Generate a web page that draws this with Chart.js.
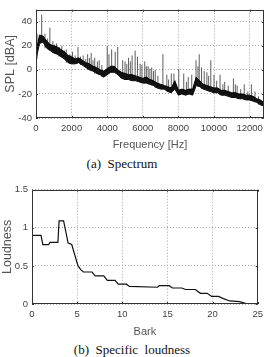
<!DOCTYPE html>
<html>
<head>
<meta charset="utf-8">
<script src="https://cdn.jsdelivr.net/npm/chart.js@4.4.0/dist/chart.umd.min.js"></script>
<style>
body { margin: 0; background: #fff; width: 268px; height: 357px; position: relative; overflow: hidden; }
canvas { position: absolute; left: 0; }
.cap { position: absolute; width: 268px; text-align: center; line-height: 16px;
       font-family: "Liberation Serif", "Times New Roman", serif; font-size: 13px; color: #111; white-space: pre; }
</style>
</head>
<body>
<canvas id="spec" width="268" height="152" style="top:0px"></canvas>
<div class="cap" style="top:156px;left:-12px">(a)  Spectrum</div>
<canvas id="loud" width="268" height="159" style="top:180px"></canvas>
<div class="cap" style="top:342px;left:-2px">(b)  Specific  loudness</div>
<script>
// (a) spectrum: band of the noisy trace every 200 Hz
var freqHz = [0, 200, 400, 600, 800, 1000, 1200, 1400, 1600, 1800,
    2000, 2200, 2400, 2600, 2800, 3000, 3200, 3400, 3600, 3800,
    4000, 4200, 4400, 4600, 4800, 5000, 5200, 5400, 5600, 5800,
    6000, 6200, 6400, 6600, 6800, 7000, 7200, 7400, 7600, 7800,
    8000, 8200, 8400, 8600, 8800, 9000, 9200, 9400, 9600, 9800,
    10000, 10200, 10400, 10600, 10800, 11000, 11200, 11400, 11600, 11800,
    12000, 12200, 12400, 12600, 12800];
var splLow = [9, 22, 23, 18, 16, 14, 13, 11, 9, 6,
    5, 5, 6, 4, 2, 0, -1, -3, -4, -6,
    -4, -2, -2, -4, -7, -8, -8, -9, -9, -10,
    -11, -11, -12, -13, -15, -16, -16, -18, -19, -16,
    -21, -20, -21, -20, -21, -13, -14, -16, -17, -18,
    -19, -19, -21, -21, -22, -23, -23, -24, -24, -25,
    -25, -26, -27, -29, -30];
var splHigh = [15, 29, 28, 24, 21, 20, 19, 17, 15, 12,
    11, 9, 10, 8, 6, 5, 3, 2, 0, -1,
    1, 3, 3, 0, -2, -3, -4, -4, -5, -6,
    -7, -6, -8, -9, -11, -12, -13, -14, -15, -9,
    -17, -16, -17, -16, -16, -6, -9, -12, -13, -14,
    -15, -15, -17, -17, -18, -19, -19, -20, -20, -21,
    -21, -22, -24, -25, -27];
// tonal peaks (gray spikes)
var spikeHz = [60, 320, 500, 650, 780, 950, 1050, 1150, 1300, 1450, 1600, 1700, 1900, 2050, 2200, 2360,
    2500, 2650, 2800, 2900, 3000, 3100, 3200, 3300, 3450, 3550, 3700,
    4000, 4100, 4250, 4450, 4590, 4870, 5000, 5100, 5200, 5300, 5400, 5570, 5700, 5850, 5950,
    6110, 6200, 6300, 6400, 6500, 6600, 6700, 6850,
    7130, 7350, 7450, 7600, 7750, 8020, 8300, 8450, 8550, 8750, 8990, 9100, 9170, 9300, 9450,
    9600, 9700, 9820, 10000, 10150, 10340, 10500, 10600, 10800, 11090, 11200, 11300, 11500,
    11700, 11900, 12100, 12300, 12500];
var spikeTop = [30, 46, 30, 26, 35, 24, 21, 22, 19, 20, 16, 17, 13, 15, 12, 19,
    11, 12, 9, 13, 10, 14, 8, 10, 7, 8, 4,
    20, 13, 17, 15, 19, 8, 7, 5, 10, 7, 12, 16, 11, 5, 4,
    7, 3, 3, 1, 2, -1, 0, -5,
    13, -4, -8, -3, -3, 1, -3, -10, -6, -4, 8, 3, 13, 2, -1,
    -2, -5, 8, -4, -9, -4, -12, -10, -13, -7, -12, -13, -16,
    -12, -18, -12, -18, -22];
var xTicksA = [0, 2000, 4000, 6000, 8000, 10000, 12000];
var yTicksA = [-40, -20, 0, 20, 40];

// (b) specific loudness, breakpoints of the curve
var barkX = [0, 1, 1.2, 1.85, 2.0, 2.87, 3.0, 3.5, 4.0, 4.4, 5.1, 5.4, 5.7, 6.65, 7.0, 7.95,
    8.35, 9.2, 9.55, 10.45, 10.8, 13.9, 14.1, 15.2, 15.55, 16.6, 17.0, 18.1, 18.65, 19.4,
    19.9, 20.65, 21.2, 21.9, 23.0, 23.9, 24.0];
var loudY = [0.9, 0.9, 0.78, 0.78, 0.81, 0.81, 1.09, 1.09, 0.8, 0.78, 0.5, 0.45, 0.42, 0.42, 0.37, 0.37,
    0.31, 0.31, 0.26, 0.26, 0.23, 0.22, 0.24, 0.24, 0.21, 0.21, 0.19, 0.19, 0.14, 0.14,
    0.10, 0.10, 0.07, 0.04, 0.03, 0.0, 0.0];
var xTicksB = [0, 5, 10, 15, 20, 25];
var yTicksB = [0, 0.5, 1, 1.5];

var sans = '"Liberation Sans", Arial, sans-serif';
var dash = [1, 2];

// frame round the plot with small inward ticks
var boxPlugin = {
    id: 'box',
    afterDatasetsDraw(chart) {
        var a = chart.chartArea, ctx = chart.ctx;
        ctx.save();
        ctx.strokeStyle = '#333';
        ctx.lineWidth = 1;
        ctx.strokeRect(Math.round(a.left) + 0.5, Math.round(a.top) + 0.5,
            Math.round(a.width) - 1, Math.round(a.height) - 1);
        var xs = chart.scales.x, ys = chart.scales.y;
        ctx.beginPath();
        xs.ticks.forEach(t => {
            var px = Math.round(xs.getPixelForValue(t.value)) + 0.5;
            ctx.moveTo(px, a.bottom); ctx.lineTo(px, a.bottom - 2);
            ctx.moveTo(px, a.top); ctx.lineTo(px, a.top + 2);
        });
        ys.ticks.forEach(t => {
            var py = Math.round(ys.getPixelForValue(t.value)) + 0.5;
            ctx.moveTo(a.left, py); ctx.lineTo(a.left + 2, py);
            ctx.moveTo(a.right, py); ctx.lineTo(a.right - 2, py);
        });
        ctx.stroke();
        ctx.restore();
    }
};

function pts(xs, ys) {
    return xs.map((x, i) => ({ x: x, y: ys[i] }));
}

function spikeData() {
    var out = [];
    spikeHz.forEach((f, i) => {
        var base = splLow[Math.round(f / 200)];
        out.push({ x: f, y: base });
        out.push({ x: f, y: spikeTop[i] });
        out.push({ x: f, y: null });
    });
    return out;
}

function axes(o) {
    var grid = { color: '#a8a8a8', lineWidth: 1, drawTicks: false, borderDash: dash };
    return {
        x: {
            type: 'linear', min: o.xmin, max: o.xmax,
            afterBuildTicks: s => { s.ticks = o.xt.map(v => ({ value: v })); },
            afterFit: s => { s.height = o.xh; },
            grid: grid, border: { display: false, dash: dash },
            ticks: { color: '#444', font: { family: sans, size: 9.5 }, padding: 5, maxRotation: 0,
                callback: v => String(v) },
            title: { display: true, text: o.xtitle, color: '#555', font: { family: sans, size: 11 }, padding: 0 }
        },
        y: {
            type: 'linear', min: o.ymin, max: o.ymax,
            afterBuildTicks: s => { s.ticks = o.yt.map(v => ({ value: v })); },
            afterFit: s => { s.width = o.yw; },
            grid: grid, border: { display: false, dash: dash },
            ticks: { color: '#444', font: { family: sans, size: 9.5 }, padding: 4,
                callback: v => String(v) },
            title: { display: true, text: o.ytitle, color: '#555', font: { family: sans, size: 12.5 }, padding: { top: o.ytp, bottom: 0 } }
        }
    };
}

new Chart(document.getElementById('spec'), {
    type: 'line',
    data: {
        datasets: [
            { data: pts(freqHz, splHigh), borderColor: '#000', backgroundColor: '#111', borderWidth: 1, pointRadius: 0, fill: 1, order: 1 },
            { data: pts(freqHz, splLow), borderColor: '#000', borderWidth: 1, pointRadius: 0, fill: false, order: 2 },
            { data: spikeData(), borderColor: '#5e5e5e', borderWidth: 1, pointRadius: 0, spanGaps: false, fill: false, order: 3 }
        ]
    },
    options: {
        responsive: false, animation: false, devicePixelRatio: 1,
        layout: { padding: { top: 4, right: 3, left: 0, bottom: 0 } },
        plugins: { legend: { display: false }, tooltip: { enabled: false } },
        scales: axes({ xmin: 0, xmax: 12800, ymin: -40, ymax: 50, xt: xTicksA, yt: yTicksA,
            xh: 34, yw: 36, xtitle: 'Frequency [Hz]', ytitle: 'SPL [dBA]', ytp: 3 })
    },
    plugins: [boxPlugin]
});

new Chart(document.getElementById('loud'), {
    type: 'line',
    data: {
        datasets: [
            { data: pts(barkX, loudY), borderColor: '#111', borderWidth: 1.2, pointRadius: 0, fill: false, tension: 0 }
        ]
    },
    options: {
        responsive: false, animation: false, devicePixelRatio: 1,
        layout: { padding: { top: 9, right: 6, left: 0, bottom: 0 } },
        plugins: { legend: { display: false }, tooltip: { enabled: false } },
        scales: axes({ xmin: 0, xmax: 25, ymin: 0, ymax: 1.5, xt: xTicksB, yt: yTicksB,
            xh: 35, yw: 32, xtitle: 'Bark', ytitle: 'Loudness', ytp: 0 })
    },
    plugins: [boxPlugin]
});
</script>
</body>
</html>
